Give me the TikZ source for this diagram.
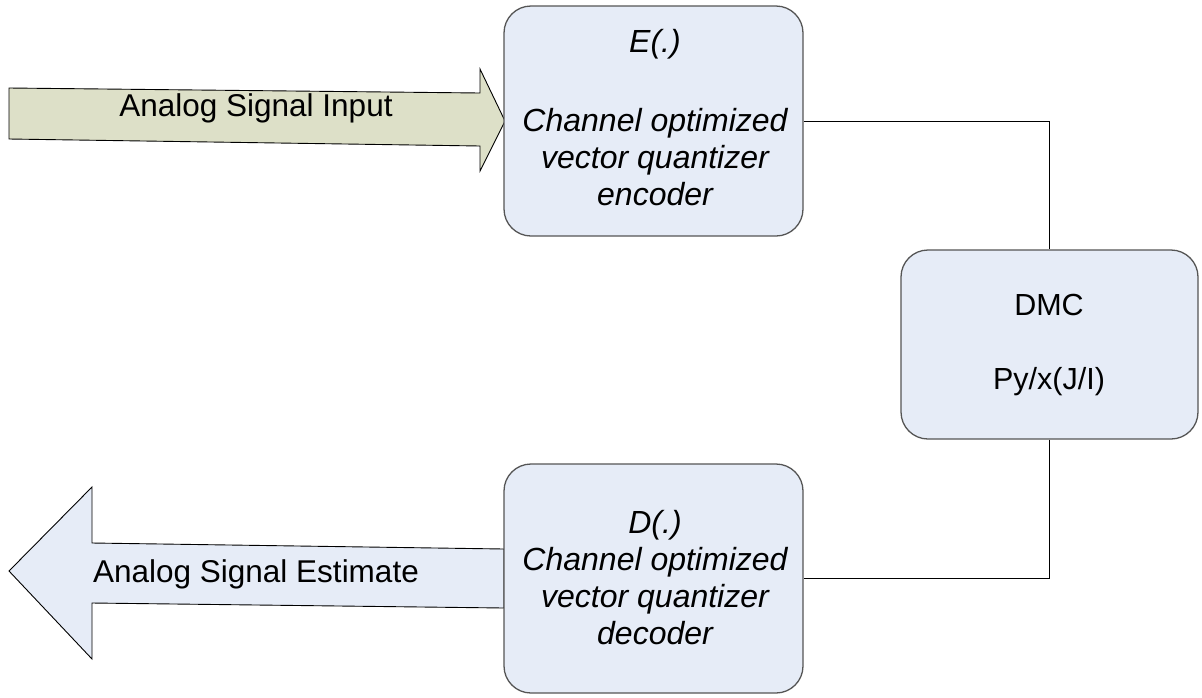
\documentclass[tikz,border=0pt]{standalone}
\usepackage{fontspec}
\setmainfont{Liberation Sans}
\begin{document}
\begin{tikzpicture}[x=1pt,y=-1pt,
  blockbox/.style={draw=boxline,line width=1.3pt,fill=boxfill,rounded corners=27pt,inner sep=0pt},
  boxtext/.style={anchor=base,inner sep=0pt,font=\fontsize{32}{37}\selectfont\itshape},
  chantext/.style={anchor=base,inner sep=0pt,font=\fontsize{30.5}{36}\selectfont},
  arrowtext/.style={anchor=base,inner sep=0pt,font=\fontsize{31.5}{36}\selectfont},
  bigarrow/.style={draw=black,line width=0.9pt},
  wire/.style={draw=black,line width=0.9pt}]
\definecolor{boxfill}{RGB}{230,236,247}
\definecolor{boxline}{RGB}{85,85,85}
\definecolor{infill}{RGB}{221,224,200}

\useasboundingbox (0,0) rectangle (1202,697);

% block arrows for the signal going in and coming out
\draw[bigarrow,fill=infill] (9,88) -- (480,93) -- (480,69) -- (505,121)
  -- (480,171) -- (480,146) -- (9,139) -- cycle;
\draw[bigarrow,fill=boxfill] (9,571) -- (92,487) -- (92,543) -- (504,549)
  -- (504,608) -- (92,603) -- (92,659) -- cycle;
\node[arrowtext] (inlabel) at (256,116) {Analog Signal Input};
\node[arrowtext] (outlabel) at (256,582) {Analog Signal Estimate};

% encoder, channel and decoder blocks
\node[blockbox,minimum width=299pt,minimum height=230pt] (enc) at (653.5,121) {};
\node[blockbox,minimum width=297pt,minimum height=189pt] (dmc) at (1049.5,344.5) {};
\node[blockbox,minimum width=299pt,minimum height=229pt] (dec) at (653.5,578.5) {};

% wiring between the blocks
\draw[wire] (enc.east) -| (dmc.north);
\draw[wire] (dmc.south) |- (dec.east);

% block labels
\node[boxtext] (encA) at (655,52) {E(.)};
\node[boxtext] (encB) at (655,131) {Channel optimized};
\node[boxtext] (encC) at (655,168) {vector quantizer};
\node[boxtext] (encD) at (655,205) {encoder};

\node[chantext] (dmcA) at (1049,315) {DMC};
\node[chantext] (dmcB) at (1049,389) {Py/x(J/I)};

\node[boxtext] (decA) at (655,533) {D(.)};
\node[boxtext] (decB) at (655,570) {Channel optimized};
\node[boxtext] (decC) at (655,607) {vector quantizer};
\node[boxtext] (decD) at (655,644) {decoder};
\end{tikzpicture}
\end{document}
